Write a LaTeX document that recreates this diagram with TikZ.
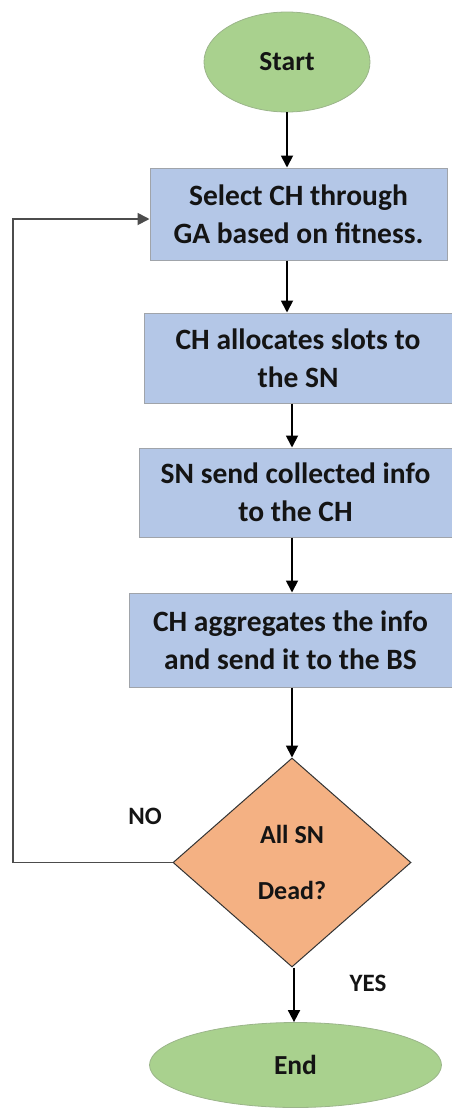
\documentclass[tikz,border=0pt]{standalone}
\usepackage{fontspec}
\setmainfont{Carlito}
\usetikzlibrary{shapes.geometric,arrows.meta}
\definecolor{termfill}{HTML}{A9D18E}
\definecolor{termline}{HTML}{9BB58A}
\definecolor{procfill}{HTML}{B4C7E7}
\definecolor{procline}{HTML}{A0A4AA}
\definecolor{decfill}{HTML}{F4B183}
\definecolor{txt}{HTML}{141414}
\begin{document}
\begin{tikzpicture}[x=1pt,y=-1pt,
  terminal/.style={ellipse, fill=termfill, draw=termline, line width=0.8pt, inner sep=0pt,
    text=txt, font=\fontsize{27.5}{32}\selectfont\bfseries},
  process/.style={rectangle, fill=procfill, draw=procline, line width=1pt, inner sep=0pt,
    align=center, text=txt, font=\fontsize{29.5}{38}\selectfont\bfseries},
  decision/.style={diamond, fill=decfill, draw=black!80, line width=1pt, inner sep=0pt,
    align=center, text=txt, font=\fontsize{26}{56}\selectfont\bfseries},
  flow/.style={line width=1.8pt, -{Triangle[length=12pt,width=12pt]}},
  back/.style={line width=1.8pt, draw=black!70, -{Triangle[length=12pt,width=12pt]}},
  tag/.style={text=txt, font=\fontsize{25}{28}\selectfont\bfseries}
]
\useasboundingbox (0,0) rectangle (452,1109);

% nodes of the flow
\node[terminal, minimum width=166pt, minimum height=100pt] (start) at (287,62) {Start};
\node[process, minimum width=297pt, minimum height=92pt] (b1) at (298.5,214)
  {Select CH through\\GA based on fitness.};
\node[process, minimum width=308pt, minimum height=90pt] (b2) at (298,358)
  {CH allocates slots to\\the SN};
\node[process, minimum width=313pt, minimum height=89pt] (b3) at (295.5,492.5)
  {SN send collected info\\to the CH};
\node[process, minimum width=323pt, minimum height=94pt] (b4) at (290.5,640)
  {CH aggregates the info\\and send it to the BS};
\node[decision, minimum width=238pt, minimum height=209pt] (dec) at (292,862.5)
  {All SN\\Dead?};
\node[terminal, minimum width=292pt, minimum height=85pt] (end) at (295.5,1065) {End};

% labels on the branches
\node[tag] (no) at (145,816) {NO};
\node[tag] (yes) at (368,983) {YES};

% connectors
\draw[flow] (start.south) -- (start |- b1.north);
\draw[flow] (start |- b1.south) -- (start |- b2.north);
\draw[flow] (dec |- b2.south) -- (dec |- b3.north);
\draw[flow] (dec |- b3.south) -- (dec |- b4.north);
\draw[flow] (dec |- b4.south) -- (dec.north);
\coordinate (dbot) at ([xshift=2pt]dec.south);
\draw[flow] (dbot) -- (dbot |- end.north);

% loop back to the selection step
\coordinate (lp) at (13,219);
\draw[back] (dec.west) -| (lp) -- (lp -| b1.west);
\end{tikzpicture}
\end{document}
